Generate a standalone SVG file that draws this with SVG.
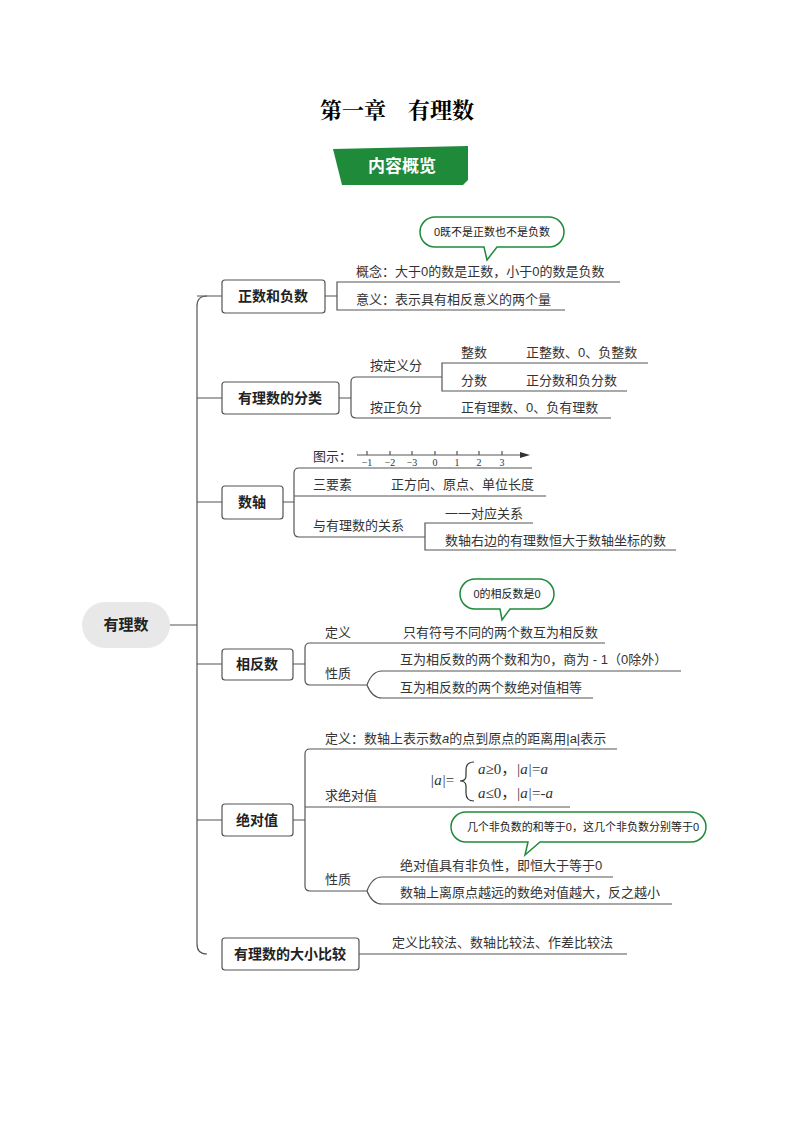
<svg xmlns="http://www.w3.org/2000/svg" width="794" height="1123" viewBox="0 0 794 1123">
<style>
text{font-family:"Liberation Sans","Noto Sans CJK SC",sans-serif;fill:#333;font-size:13px}
.b{font-weight:bold;font-size:14px;fill:#222}
.box{fill:#fff;stroke:#555;stroke-width:1.2}
.ln{fill:none;stroke:#555;stroke-width:1.2}
.call{fill:#fff;stroke:#1e8a3a;stroke-width:1.5}
.ct{font-size:11px;fill:#222}
.m{font-family:"Liberation Serif","Noto Sans CJK SC",serif;font-style:italic;font-size:15px}
.nl{font-family:"Liberation Serif",serif;font-size:10px}
</style>
<rect width="794" height="1123" fill="#fff"/>
<text x="397" y="118" text-anchor="middle" style="font-family:'Noto Serif CJK SC','Noto Sans CJK SC',serif;font-size:22px;font-weight:bold;fill:#000">第一章　有理数</text>
<g id="banner"><polygon points="333,149 468,146 468,180 463,185 342,185" fill="#1e8a3a"/><text x="402" y="172" text-anchor="middle" style="fill:#fff;font-weight:bold;font-size:17px">内容概览</text></g>
<g id="connectors">
<path class="ln" d="M170,625 H197 M207,296 Q197,296 197,306 V944 Q197,954 207,954"/>
<path class="ln" d="M197,296 H222 M197,398 H222 M197,502 H222 M197,664 H222 M197,820 H222"/>
<path class="ln" d="M325,296 H337 M620,282 H337 V310 H565"/>
<path class="ln" d="M339,398 H351 M442,377 H356 Q351,377 351,382 V413 Q351,418 356,418 H611 M648,363 H442 V391 H627"/>
<path class="ln" d="M283,502 H294 M532,468 H299 Q294,468 294,473 V532 Q294,537 299,537 H425 M546,496 H294 M533,523 H425 V550 H676"/>
<path class="ln" d="M293,664 H305 M605,643 H310 Q305,643 305,648 V680 Q305,685 310,685 H367 Q372,671 382,671 H681 M367,685 Q372,698 382,698 H593"/>
<path class="ln" d="M293,820 H305 M617,749 H310 Q305,749 305,754 V886 Q305,891 310,891 H367 Q372,877 382,877 H613 M367,891 Q372,904 382,904 H672 M305,807 H570"/>
<path class="ln" d="M359,954 H627"/>
</g>
<g id="root"><rect x="82" y="602" width="88" height="46" rx="23" fill="#e8e8e8"/><text class="b" x="126" y="630" text-anchor="middle" style="font-size:15px">有理数</text></g>
<g id="n1"><rect class="box" x="222" y="280" width="103" height="33" rx="3"/><text class="b" x="273" y="301" text-anchor="middle">正数和负数</text></g>
<g id="n2"><rect class="box" x="222" y="382" width="117" height="32" rx="3"/><text class="b" x="280" y="403" text-anchor="middle">有理数的分类</text></g>
<g id="n3"><rect class="box" x="222" y="486" width="61" height="33" rx="3"/><text class="b" x="252" y="507" text-anchor="middle">数轴</text></g>
<g id="n4"><rect class="box" x="222" y="649" width="71" height="31" rx="3"/><text class="b" x="257" y="669" text-anchor="middle">相反数</text></g>
<g id="n5"><rect class="box" x="222" y="804" width="71" height="32" rx="3"/><text class="b" x="257" y="825" text-anchor="middle">绝对值</text></g>
<g id="n6"><rect class="box" x="222" y="938" width="137" height="32" rx="3"/><text class="b" x="290" y="959" text-anchor="middle">有理数的大小比较</text></g>
<g id="t1"><text x="356" y="276">概念：大于0的数是正数，小于0的数是负数</text><text x="356" y="304">意义：表示具有相反意义的两个量</text></g>
<g id="c1"><path class="call" d="M435,217 H549 A15,15 0 0 1 549,247 H497 L487,260 L484,247 H435 A15,15 0 0 1 435,217 Z"/><text class="ct" x="492" y="236" text-anchor="middle">0既不是正数也不是负数</text></g>
<g id="t2"><text x="370" y="370">按定义分</text><text x="370" y="412">按正负分</text><text x="461" y="357">整数</text><text x="526" y="357">正整数、0、负整数</text><text x="461" y="385">分数</text><text x="526" y="385">正分数和负分数</text><text x="461" y="412">正有理数、0、负有理数</text></g>
<g id="t3"><text x="313" y="461">图示：</text>
<path class="ln" d="M357,455 H522 M367,451 V455 M390,451 V455 M412,451 V455 M435,451 V455 M457,451 V455 M479,451 V455 M502,451 V455"/><polygon points="530,455 520,452 520,458" fill="#333"/>
<g class="nl" text-anchor="middle"><text class="nl" x="367" y="466">−1</text><text class="nl" x="390" y="466">−2</text><text class="nl" x="412" y="466">−3</text><text class="nl" x="435" y="466">0</text><text class="nl" x="457" y="466">1</text><text class="nl" x="479" y="466">2</text><text class="nl" x="502" y="466">3</text></g>
<text x="313" y="489">三要素</text><text x="391" y="489">正方向、原点、单位长度</text><text x="313" y="530">与有理数的关系</text><text x="445" y="518">一一对应关系</text><text x="445" y="545">数轴右边的有理数恒大于数轴坐标的数</text></g>
<g id="c2"><path class="call" d="M475,579 H539 A15,15 0 0 1 539,609 H510 L502,620 L500,609 H475 A15,15 0 0 1 475,579 Z"/><text class="ct" x="507" y="598" text-anchor="middle">0的相反数是0</text></g>
<g id="t4"><text x="325" y="637">定义</text><text x="403" y="637">只有符号不同的两个数互为相反数</text><text x="325" y="678">性质</text><text x="400" y="664">互为相反数的两个数和为0，商为 - 1（0除外）</text><text x="400" y="692">互为相反数的两个数绝对值相等</text></g>
<g id="t5"><text x="325" y="743">定义：数轴上表示数<tspan font-style="italic">a</tspan>的点到原点的距离用|a|表示</text><text x="325" y="800">求绝对值</text>
<text class="m" x="430" y="785">|<tspan>a</tspan>|<tspan font-style="normal">=</tspan></text>
<path d="M474,762 Q466,762 466,770 V776 Q466,781 460,781 Q466,781 466,786 V793 Q466,801 474,801" fill="none" stroke="#333" stroke-width="1.2"/>
<text class="m" x="478" y="774">a<tspan font-style="normal">≥0，</tspan>|a|<tspan font-style="normal">=</tspan>a</text>
<text class="m" x="478" y="798">a<tspan font-style="normal">≤0，</tspan>|a|<tspan font-style="normal">=-</tspan>a</text>
<text x="325" y="884">性质</text><text x="400" y="870">绝对值具有非负性，即恒大于等于0</text><text x="400" y="897">数轴上离原点越远的数绝对值越大，反之越小</text></g>
<g id="c3"><path class="call" d="M466,812 H691 A15,15 0 0 1 691,842 H540 L525,855 L528,842 H466 A15,15 0 0 1 466,812 Z"/><text class="ct" x="583" y="831" text-anchor="middle">几个非负数的和等于0，这几个非负数分别等于0</text></g>
<g id="t6"><text x="392" y="947">定义比较法、数轴比较法、作差比较法</text></g>
</svg>
